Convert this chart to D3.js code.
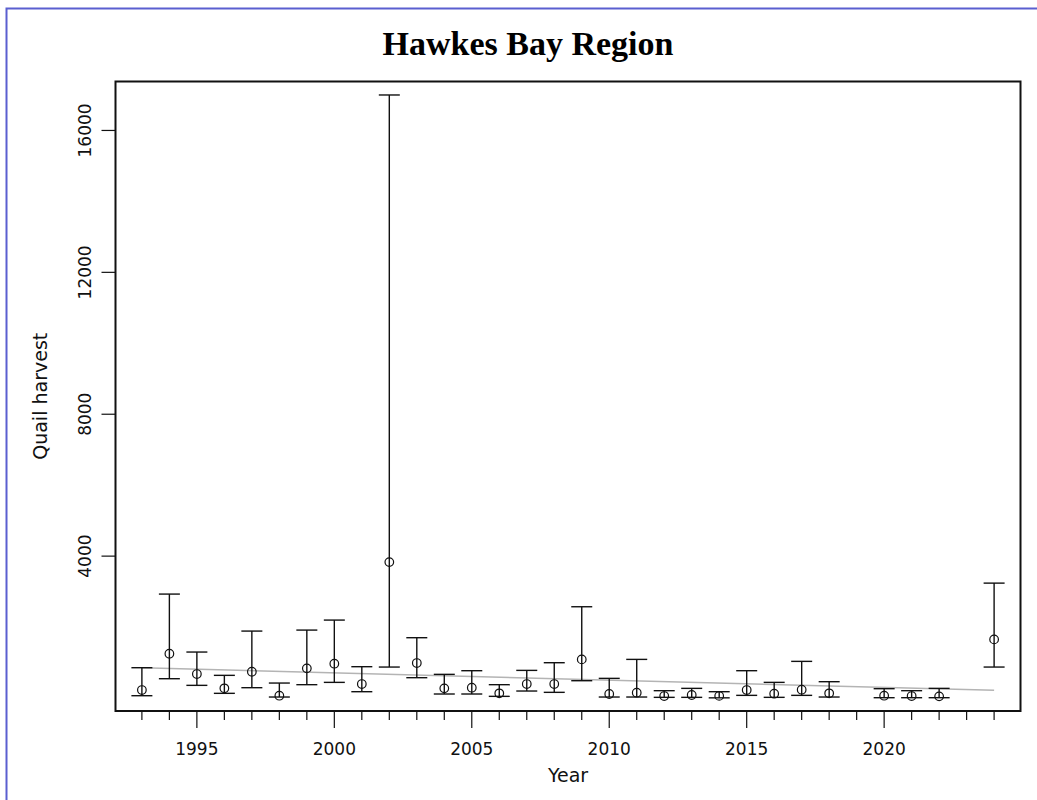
<!DOCTYPE html>
<html>
<head>
<meta charset="utf-8">
<script src="https://cdn.jsdelivr.net/npm/d3@7"></script>
<style>
  body { margin: 0; background: #fff; }
  svg { display: block; }
</style>
</head>
<body>
<svg id="chart" width="1037" height="800"></svg>
<script>
// survey years (no estimate in 2019 and 2023)
var years = [1993, 1994, 1995, 1996, 1997, 1998, 1999, 2000, 2001, 2002,
             2003, 2004, 2005, 2006, 2007, 2008, 2009, 2010, 2011, 2012,
             2013, 2014, 2015, 2016, 2017, 2018, 2020, 2021, 2022, 2024];
var estimate = [225, 1248, 676, 273, 741, 65, 836, 967, 394, 3831,
                986, 272, 291, 132, 394, 394, 1089, 113, 150, 56,
                85, 60, 225, 122, 235, 132, 65, 56, 47, 1653];
var lower = [65, 544, 357, 132, 291, 28, 376, 441, 178, 873,
             573, 113, 113, 47, 197, 160, 488, 28, 28, 19,
             19, 5, 75, 19, 75, 28, 9, 9, 9, 873];
var upper = [854, 2930, 1296, 639, 1887, 422, 1915, 2197, 883, 17000,
             1700, 667, 770, 376, 779, 995, 2573, 554, 1089, 207,
             272, 178, 770, 441, 1033, 460, 263, 207, 272, 3239];

// fitted trend line end points
var trendYears = [1993, 2024];
var trendValues = [850, 217];

var yTicks = [4000, 8000, 12000, 16000];
var xLabelYears = [1995, 2000, 2005, 2010, 2015, 2020];

var svg = d3.select("#chart");
var plotLeft = 115.5, plotRight = 1020.5, plotTop = 81.5, plotBottom = 711;

var x = d3.scaleLinear().domain([1992.04, 2024.96]).range([plotLeft, plotRight]);
var y = d3.scaleLinear().domain([-366, 17380]).range([plotBottom, plotTop]);

// outer blue frame
svg.append("rect")
  .attr("x", 6.5).attr("y", 8.5)
  .attr("width", 1100).attr("height", 900)
  .attr("fill", "none")
  .attr("stroke", "#5a5fd0")
  .attr("stroke-width", 2);

svg.append("text")
  .attr("x", 528).attr("y", 55)
  .attr("text-anchor", "middle")
  .style("font-family", "'Liberation Serif', 'DejaVu Serif', serif")
  .style("font-weight", "bold")
  .style("font-size", "34px")
  .text("Hawkes Bay Region");

// trend line
svg.append("line")
  .attr("x1", x(trendYears[0])).attr("y1", y(trendValues[0]))
  .attr("x2", x(trendYears[1])).attr("y2", y(trendValues[1]))
  .attr("stroke", "#b4b4b4")
  .attr("stroke-width", 1.5);

var rows = years.map(function(yr, i) {
  return { year: yr, est: estimate[i], lo: lower[i], hi: upper[i] };
});

var bars = svg.append("g")
  .attr("stroke", "#111")
  .attr("stroke-width", 1.4)
  .attr("fill", "none");

bars.selectAll("line.stem")
  .data(rows).enter().append("line")
  .attr("class", "stem")
  .attr("x1", function(d) { return x(d.year); })
  .attr("x2", function(d) { return x(d.year); })
  .attr("y1", function(d) { return y(d.lo); })
  .attr("y2", function(d) { return y(d.hi); });

bars.selectAll("line.capHi")
  .data(rows).enter().append("line")
  .attr("class", "capHi")
  .attr("x1", function(d) { return x(d.year) - 10.5; })
  .attr("x2", function(d) { return x(d.year) + 10.5; })
  .attr("y1", function(d) { return y(d.hi); })
  .attr("y2", function(d) { return y(d.hi); });

bars.selectAll("line.capLo")
  .data(rows).enter().append("line")
  .attr("class", "capLo")
  .attr("x1", function(d) { return x(d.year) - 10.5; })
  .attr("x2", function(d) { return x(d.year) + 10.5; })
  .attr("y1", function(d) { return y(d.lo); })
  .attr("y2", function(d) { return y(d.lo); });

bars.selectAll("circle")
  .data(rows).enter().append("circle")
  .attr("cx", function(d) { return x(d.year); })
  .attr("cy", function(d) { return y(d.est); })
  .attr("r", 4.3)
  .attr("fill", "none")
  .attr("stroke-width", 1.2);

// plot box
svg.append("rect")
  .attr("x", plotLeft).attr("y", plotTop)
  .attr("width", plotRight - plotLeft).attr("height", plotBottom - plotTop)
  .attr("fill", "none")
  .attr("stroke", "#111")
  .attr("stroke-width", 2);

// x axis: a tick every year, longer ones where labelled
var allYears = d3.range(1993, 2025);
var xAxis = svg.append("g");
xAxis.selectAll("line")
  .data(allYears).enter().append("line")
  .attr("x1", function(d) { return x(d); })
  .attr("x2", function(d) { return x(d); })
  .attr("y1", plotBottom)
  .attr("y2", function(d) { return d % 5 == 0 ? plotBottom + 17 : plotBottom + 9; })
  .attr("stroke", "#111")
  .attr("stroke-width", 1.2);

xAxis.selectAll("text")
  .data(xLabelYears).enter().append("text")
  .attr("x", function(d) { return x(d); })
  .attr("y", 755)
  .attr("text-anchor", "middle")
  .style("font-family", "'DejaVu Sans', Verdana, sans-serif")
  .style("font-size", "17px")
  .attr("fill", "#111")
  .text(function(d) { return d; });

// y axis
var yAxis = svg.append("g");
yAxis.selectAll("line")
  .data(yTicks).enter().append("line")
  .attr("x1", plotLeft - 14).attr("x2", plotLeft)
  .attr("y1", function(d) { return y(d); })
  .attr("y2", function(d) { return y(d); })
  .attr("stroke", "#111")
  .attr("stroke-width", 1.2);

yAxis.selectAll("text")
  .data(yTicks).enter().append("text")
  .attr("transform", function(d) { return "translate(91," + y(d) + ") rotate(-90)"; })
  .attr("text-anchor", "middle")
  .style("font-family", "'DejaVu Sans', Verdana, sans-serif")
  .style("font-size", "17px")
  .attr("fill", "#111")
  .text(function(d) { return d; });

svg.append("text")
  .attr("transform", "translate(47," + ((plotTop + plotBottom) / 2) + ") rotate(-90)")
  .attr("text-anchor", "middle")
  .style("font-family", "'DejaVu Sans', Verdana, sans-serif")
  .style("font-size", "19px")
  .attr("fill", "#111")
  .text("Quail harvest");

svg.append("text")
  .attr("x", (plotLeft + plotRight) / 2).attr("y", 782)
  .attr("text-anchor", "middle")
  .style("font-family", "'DejaVu Sans', Verdana, sans-serif")
  .style("font-size", "19px")
  .attr("fill", "#111")
  .text("Year");
</script>
</body>
</html>
